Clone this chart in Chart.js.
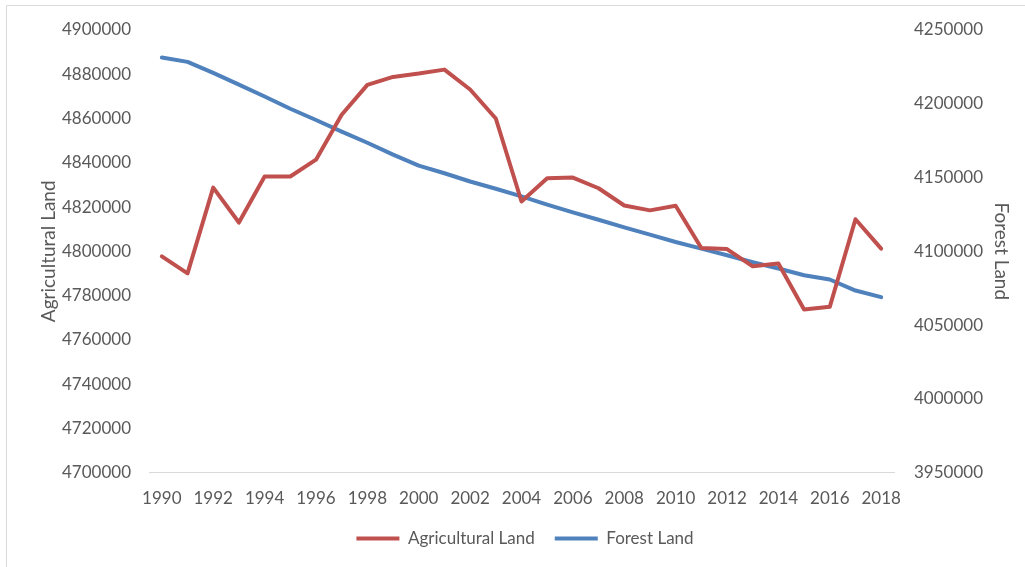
<!DOCTYPE html>
<html>
<head>
<meta charset="utf-8">
<script src="https://cdn.jsdelivr.net/npm/chart.js@4.4.0/dist/chart.umd.min.js"></script>
<style>
  html, body { margin: 0; padding: 0; background: #fff; }
  #wrap { width: 1025px; height: 567px; position: relative; }
</style>
</head>
<body>
<div id="wrap"><canvas id="landChart" width="1025" height="567"></canvas></div>
<script>
const years = [];
for (let y = 1990; y <= 2018; y++) years.push(String(y));

// valores
const agriculturalLand = [
  4797700, 4790000, 4828800, 4813000, 4833800, 4833800, 4841400, 4861700, 4875200, 4878800,
  4880300, 4882100, 4873100, 4860000, 4822500, 4833000, 4833300, 4828500, 4820700, 4818500,
  4820600, 4801500, 4801000, 4793200, 4794500, 4773700, 4774900, 4814500, 4801200
];
const forestLand = [
  4231300, 4228400, 4220900, 4213000, 4204900, 4196600, 4189000, 4181100, 4173600, 4165500,
  4158100, 4152900, 4147300, 4142400, 4137200, 4131600, 4126400, 4121400, 4116200, 4111300,
  4106300, 4101800, 4097300, 4092600, 4088300, 4083800, 4080900, 4073400, 4068900
];

const textColor = '#595959';
const fontFamily = 'Lato, "Open Sans", sans-serif';

// borde gris claro arriba e izquierda
const framePlugin = {
  id: 'frame',
  beforeDraw(chart) {
    const ctx = chart.ctx;
    ctx.save();
    ctx.strokeStyle = '#d9d9d9';
    ctx.lineWidth = 1;
    ctx.beginPath();
    ctx.moveTo(6.5, chart.height);
    ctx.lineTo(6.5, 5.5);
    ctx.lineTo(chart.width, 5.5);
    ctx.stroke();
    ctx.restore();
  }
};

new Chart(document.getElementById('landChart'), {
  type: 'line',
  data: {
    labels: years,
    datasets: [{
      label: 'Agricultural Land',
      data: agriculturalLand,
      yAxisID: 'yLeft',
      borderColor: '#c0504d',
      backgroundColor: '#c0504d',
      borderWidth: 4,
      pointRadius: 0,
      tension: 0,
      borderJoinStyle: 'round',
      borderCapStyle: 'round'
    }, {
      label: 'Forest Land',
      data: forestLand,
      yAxisID: 'yRight',
      borderColor: '#4f81bd',
      backgroundColor: '#4f81bd',
      borderWidth: 4,
      pointRadius: 0,
      tension: 0,
      borderJoinStyle: 'round',
      borderCapStyle: 'round'
    }]
  },
  options: {
    responsive: false,
    animation: false,
    layout: { padding: { top: 30, left: 33, right: 8, bottom: 10 } },
    plugins: {
      tooltip: { enabled: false },
      legend: {
        position: 'bottom',
        labels: {
          usePointStyle: true,
          pointStyle: 'line',
          pointStyleWidth: 43,
          boxHeight: 10,
          padding: 20,
          color: textColor,
          font: { family: fontFamily, size: 17 }
        }
      }
    },
    scales: {
      x: {
        offset: true,
        grid: { display: false },
        border: { display: true, color: '#d9d9d9', width: 1 },
        afterFit: (scale) => { scale.height -= 7; },
        ticks: {
          autoSkip: false,
          maxRotation: 0,
          color: textColor,
          font: { family: fontFamily, size: 17 },
          padding: 8,
          callback: (val, i) => (i % 2 === 0 ? years[i] : '')
        }
      },
      yLeft: {
        position: 'left',
        min: 4700000,
        max: 4900000,
        grid: { display: false },
        border: { display: false },
        afterFit: (scale) => { scale.width = 116; },
        ticks: {
          stepSize: 20000,
          color: textColor,
          padding: 10,
          font: { family: fontFamily, size: 17 },
          callback: (v) => String(v)
        },
        title: {
          display: true,
          text: 'Agricultural Land',
          color: textColor,
          font: { family: fontFamily, size: 19 }
        }
      },
      yRight: {
        position: 'right',
        min: 3950000,
        max: 4250000,
        grid: { display: false },
        border: { display: false },
        afterFit: (scale) => { scale.width = 123; },
        ticks: {
          stepSize: 50000,
          color: textColor,
          padding: 12,
          font: { family: fontFamily, size: 17 },
          callback: (v) => String(v)
        },
        title: {
          display: true,
          text: 'Forest Land',
          color: textColor,
          font: { family: fontFamily, size: 19 }
        }
      }
    }
  },
  plugins: [framePlugin]
});
</script>
</body>
</html>
